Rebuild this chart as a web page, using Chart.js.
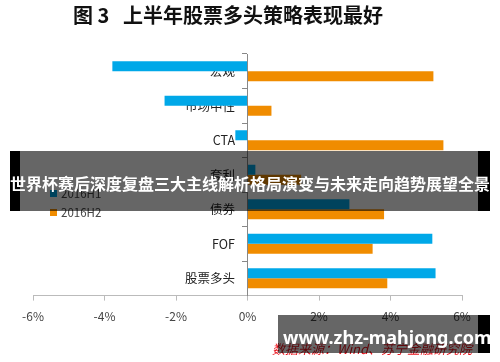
<!DOCTYPE html>
<html>
<head>
<meta charset="utf-8">
<script src="https://cdn.jsdelivr.net/npm/chart.js@4"></script>
<style>
  html, body { margin: 0; padding: 0; background: #fff; }
  #wrap { position: relative; width: 500px; height: 362px; overflow: hidden; font-family: "Noto Sans CJK SC", sans-serif; }
  #chart { position: absolute; left: 0; top: 0; }
  .abs { position: absolute; white-space: nowrap; }
  #title { left: 73px; top: 2px; font-size: 20px; font-weight: bold; color: #111; line-height: 26px; }
  #legend { left: 50px; top: 184px; font-size: 11.5px; color: #444; line-height: 19px; }
  #legend span.box { display: inline-block; width: 7px; height: 7px; margin-right: 4px; vertical-align: 1px; }
  .blk { background: #000; }
  .shade { background: rgba(0,0,0,0.6); }
  #banner-text { left: 0; width: 500px; top: 171px; text-align: center; font-size: 16px; font-weight: bold; color: #fff; line-height: 24px; }
  #source { left: 272px; top: 340px; font-size: 13px; font-style: italic; color: #e8101a; line-height: 18px; }
  #mark { left: 283px; width: 200px; top: 324px; text-align: center; font-family: "Noto Sans", sans-serif; font-size: 18px; font-weight: bold; color: #fff; line-height: 26px; }
</style>
</head>
<body>
<div id="wrap">
  <canvas id="chart" width="500" height="362"></canvas>
  <div id="title" class="abs">图 3&nbsp;&nbsp;&nbsp;上半年股票多头策略表现最好</div>
  <div id="legend" class="abs"></div>
  <div id="source" class="abs">数据来源：Wind、苏宁金融研究院</div>
  <div class="abs blk" style="left:10px;top:151px;width:10px;height:60px"></div>
  <div class="abs shade" style="left:20px;top:151px;width:458px;height:60px"></div>
  <div class="abs blk" style="left:478px;top:151px;width:12px;height:60px"></div>
  <div id="banner-text" class="abs">世界杯赛后深度复盘三大主线解析格局演变与未来走向趋势展望全景</div>
  <div class="abs shade" style="left:278px;top:315px;width:200px;height:38px"></div>
  <div class="abs blk" style="left:478px;top:315px;width:12px;height:38px"></div>
  <div id="mark" class="abs">www.zhz-mahjong.com</div>
</div>
<script>
const categories = ['宏观', '市场中性', 'CTA', '套利', '债券', 'FOF', '股票多头'];
const seriesNames = ['2016H1', '2016H2'];
const valuesH1 = [-3.78, -2.32, -0.34, 0.22, 2.85, 5.17, 5.26];
const valuesH2 = [5.2, 0.67, 5.48, 1.5, 3.82, 3.5, 3.91];
const seriesColors = ['#00A8E8', '#F08C00'];

// legend built by hand so it can sit inside the plot like the original
const legendEl = document.getElementById('legend');
seriesNames.forEach((name, i) => {
    const row = document.createElement('div');
    row.innerHTML = '<span class="box" style="background:' + seriesColors[i] + '"></span>' + name;
    legendEl.appendChild(row);
});

const data = {
    labels: categories,
    datasets: [
        { label: seriesNames[0], data: valuesH1, backgroundColor: seriesColors[0] },
        { label: seriesNames[1], data: valuesH2, backgroundColor: seriesColors[1] }
    ]
};

const config = {
    type: 'bar',
    data: data,
    options: {
        indexAxis: 'y',
        responsive: false,
        animation: false,
        categoryPercentage: 0.58,
        barPercentage: 1.0,
        layout: {
            padding: { left: 33, right: 38, top: 54, bottom: 29 }
        },
        plugins: {
            legend: { display: false },
            tooltip: { enabled: false }
        },
        scales: {
            x: {
                min: -6,
                max: 6,
                ticks: {
                    stepSize: 2,
                    color: '#444',
                    padding: 9,
                    font: { size: 12, family: 'Noto Sans CJK SC' },
                    callback: v => v + '%'
                },
                grid: { drawOnChartArea: false, tickLength: 5, color: '#bbb' },
                border: { color: '#bbb' }
            },
            y: {
                position: { x: 0 },
                ticks: {
                    color: '#222',
                    // axis sits at x = 0, padding is ignored there, so pad the text itself
                    callback: (v, i) => categories[i] + '\u3000',
                    font: { size: 12.5, family: 'Noto Sans CJK SC' }
                },
                grid: { offset: true, drawOnChartArea: false, tickLength: 5, color: '#888' },
                border: { color: '#888' }
            }
        }
    }
};

const ctx = document.getElementById('chart').getContext('2d');
new Chart(ctx, config);
</script>
</body>
</html>
